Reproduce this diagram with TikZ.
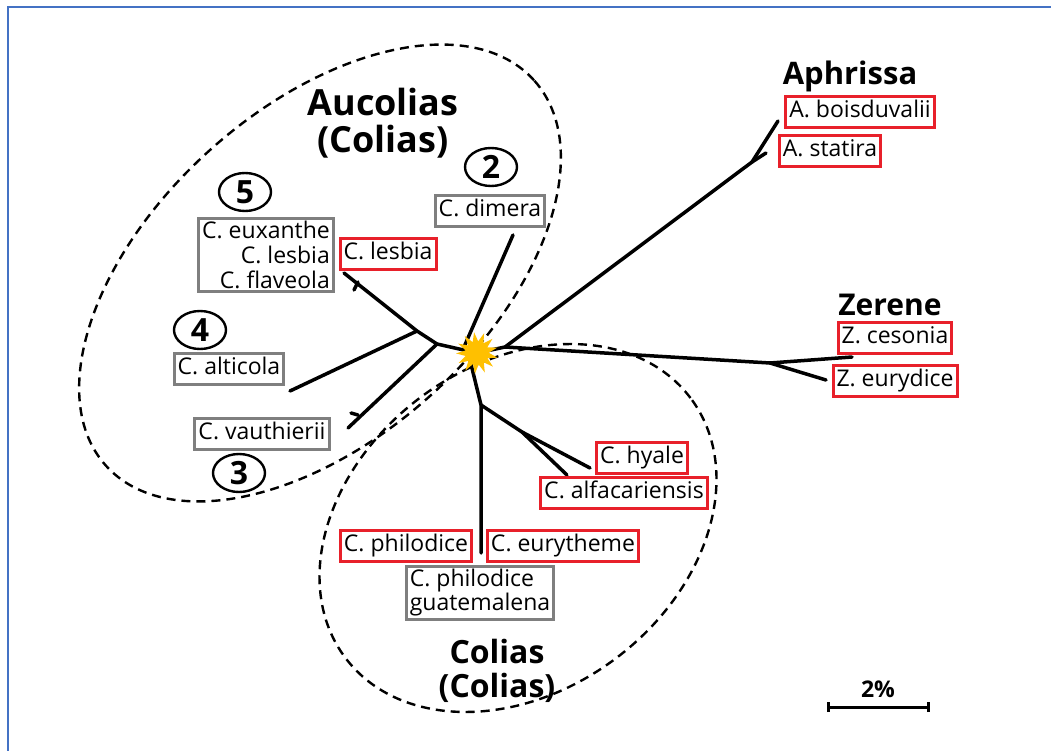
\documentclass[tikz,border=0pt]{standalone}
\usepackage{fontspec}
\setmainfont{Open Sans}
\usetikzlibrary{shapes.geometric}
\definecolor{boxred}{HTML}{E8202A}
\definecolor{boxgray}{HTML}{7F7F7F}
\definecolor{frameblue}{HTML}{4472C4}
\definecolor{staryellow}{HTML}{FFC000}
\begin{document}
\begin{tikzpicture}[x=1pt,y=-1pt,
  branch/.style={line width=3.5pt, line cap=round},
  grp/.style={draw, dash pattern=on 9pt off 6pt, line width=2.4pt, ellipse, inner sep=0pt},
  lbl/.style={line width=3pt, inner xsep=3.5pt, inner ysep=5pt, text height=16pt, text depth=5pt, font=\fontsize{23}{27}\selectfont},
  redbox/.style={lbl, draw=boxred},
  graybox/.style={lbl, draw=boxgray},
  multibox/.style={draw=boxgray, line width=3pt, inner xsep=3.5pt, inner ysep=3pt, font=\fontsize{23}{25}\selectfont},
  clade/.style={font=\bfseries\fontsize{36}{37}\selectfont, align=center},
  num/.style={draw, ellipse, line width=2.4pt, minimum width=52pt, minimum height=38pt, inner sep=0pt, font=\bfseries\fontsize{32}{32}\selectfont}
]
\useasboundingbox (0,0) rectangle (1051,751);
\fill[white] (0,0) rectangle (1051,751);
\draw[frameblue, line width=2.5pt] (8,751) -- (8,7) -- (1051,7);

% group ellipses
\node[grp, minimum width=576pt, minimum height=330pt, rotate=42] (aucolias) at (320,273) {};
\node[grp, minimum width=432pt, minimum height=326pt, rotate=37] (coliasgrp) at (518,528) {};

% tree coordinates
\coordinate (R) at (477,353);
\coordinate (nAZ) at (505,347);
\coordinate (nAph) at (752,162);
\coordinate (tBois) at (778,121);
\coordinate (tStat) at (766,153);
\coordinate (nZer) at (770,363);
\coordinate (tCes) at (852,357);
\coordinate (tEur) at (826,380);
\coordinate (nA1) at (437,344);
\coordinate (nA2) at (417,331);
\coordinate (tLes) at (344,273);
\coordinate (fLes) at (358,282);
\coordinate (kLes) at (354,290);
\coordinate (tAlt) at (290,391);
\coordinate (tVau) at (348,428);
\coordinate (fVau) at (358,415);
\coordinate (kVau) at (351,413);
\coordinate (tDim) at (513,235);
\coordinate (nD) at (464,347);
\coordinate (rB) at (469,356);
\coordinate (nB1) at (481,405);
\coordinate (tPhi) at (481,553);
\coordinate (nB2) at (522,432);
\coordinate (tHya) at (590,468);
\coordinate (tAlf) at (567,475);

\draw[branch] (R) -- (nAZ) -- (nAph) -- (tBois);
\draw[branch] (nAph) -- (tStat);
\draw[branch] (nAZ) -- (nZer) -- (tCes);
\draw[branch] (nZer) -- (tEur);
\draw[branch] (R) -- (nA1) -- (nA2) -- (tLes);
\draw[branch] (fLes) -- (kLes);
\draw[branch] (nA2) -- (tAlt);
\draw[branch] (nA1) -- (tVau);
\draw[branch] (fVau) -- (kVau);
\draw[branch] (tDim) -- (nD);
\draw[branch] (rB) -- (nB1) -- (tPhi);
\draw[branch] (nB1) -- (nB2) -- (tHya);
\draw[branch] (nB2) -- (tAlf);

\node[star, star points=13, star point ratio=1.8, fill=staryellow, minimum size=42pt, inner sep=0pt, rotate=8] (root) at (R) {};

% clade titles
\node[font=\bfseries\fontsize{31}{31}\selectfont, anchor=base] (aphrissa) at (850,85) {Aphrissa};
\node[font=\bfseries\fontsize{30}{30}\selectfont, anchor=base] (zerene) at (890,315) {Zerene};
\node[clade] (aucoliasT) at (383,123) {Aucolias\\(Colias)};
\node[clade, font=\bfseries\fontsize{32}{34}\selectfont] (coliasT) at (497,671) {Colias\\(Colias)};

% labels
\node[redbox] (bois) at (860,112) {A. boisduvalii};
\node[redbox] (stat) at (830,151) {A. statira};
\node[redbox] (ces) at (895,338) {Z. cesonia};
\node[redbox] (eur) at (895,381) {Z. eurydice};
\node[redbox] (lesr) at (388,254) {C. lesbia};
\node[multibox, align=right] (eux) at (266,255) {C. euxanthe\\C. lesbia\\C. flaveola};
\node[graybox] (dim) at (490,211) {C. dimera};
\node[graybox] (alt) at (229,369) {C. alticola};
\node[graybox] (vau) at (262,434) {C. vauthierii};
\node[redbox] (hya) at (642,458) {C. hyale};
\node[redbox] (alf) at (624,493) {C. alfacariensis};
\node[redbox] (phi) at (406,546) {C. philodice};
\node[redbox] (eut) at (563,546) {C. eurytheme};
\node[multibox, align=left, font=\fontsize{23}{22}\selectfont] (gua) at (480,593) {C. philodice\\guatemalena};

% circled numbers
\node[num] (n5) at (245,192) {5};
\node[num] (n2) at (491,167) {2};
\node[num] (n4) at (200,330) {4};
\node[num] (n3) at (239,473) {3};

% scale bar
\coordinate (sbL) at (828,707);
\coordinate (sbR) at (928,707);
\draw[line width=3pt] (sbL) -- (sbR);
\draw[line width=3pt] ([yshift=-5pt]sbL) -- ([yshift=5pt]sbL);
\draw[line width=3pt] ([yshift=-5pt]sbR) -- ([yshift=5pt]sbR);
\node[font=\bfseries\fontsize{23}{23}\selectfont, anchor=base] (sbT) at (878,697) {2\%};
\end{tikzpicture}
\end{document}
